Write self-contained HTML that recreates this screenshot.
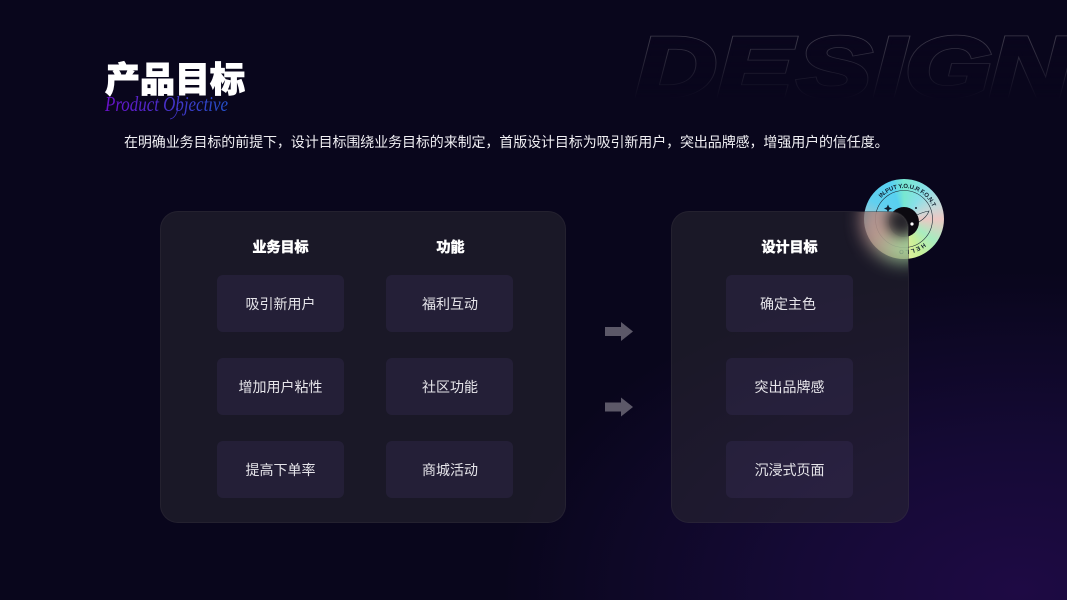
<!DOCTYPE html>
<html lang="zh"><head><meta charset="utf-8"><style>
html,body{margin:0;padding:0}
#p{position:relative;width:1067px;height:600px;overflow:hidden;background:radial-gradient(ellipse 520px 320px at 1020px 590px,#1e0a44 0%,#150a35 45%,rgba(9,6,28,0) 100%),#09061c;font-family:"Liberation Sans","Noto Sans CJK SC",sans-serif;color:#fff}
.a{position:absolute}
.card{position:absolute;top:211px;height:310px;border-radius:18px;border:1px solid rgba(255,255,255,.045);background:rgba(44,41,50,.5);overflow:hidden}
.b{position:absolute;width:127px;height:57px;line-height:58px;border-radius:6px;background:rgba(74,60,115,.22);text-align:center;font-size:14px;color:#e6e5ea}
.h{position:absolute;top:237px;width:127px;text-align:center;font-size:14px;font-weight:700;line-height:20px;-webkit-text-stroke:.6px #fff}
</style></head><body><div id="p">
<div class="a" style="left:864px;top:179px;width:80px;height:80px;border-radius:50%;background:conic-gradient(#78e8d0 0deg,#88e0e8 35deg,#c8d8d8 70deg,#ecc8c4 90deg,#a8ecc0 125deg,#c8f098 155deg,#f0f0a0 190deg,#e8c0b0 240deg,#60d0f0 300deg,#58d0f0 340deg,#78e8d0 360deg)"></div>
<svg class="a" style="left:0;top:0" width="1067" height="600"><defs>
<linearGradient id="f" x1="0" y1="33" x2="0" y2="100" gradientUnits="userSpaceOnUse"><stop offset="0" stop-color="#fff"/><stop offset=".55" stop-color="#777"/><stop offset="1" stop-color="#000"/></linearGradient>
<mask id="m" maskUnits="userSpaceOnUse" x="600" y="0" width="467" height="120"><rect x="600" y="0" width="467" height="120" fill="url(#f)"/></mask>
<linearGradient id="t" x1="105" y1="0" x2="228" y2="0" gradientUnits="userSpaceOnUse"><stop offset="0" stop-color="#6a10c8"/><stop offset="1" stop-color="#2450c8"/></linearGradient>
<path id="c1" d="M873 219A31 31 0 0 1 935 219"/><path id="c2" d="M935 219A31 31 0 0 1 873 219"/></defs>
<g mask="url(#m)" font-family="Liberation Sans" font-size="84" font-weight="700" font-style="italic" stroke-linejoin="miter">
<g fill="#3f3c4c" stroke="#3f3c4c" stroke-width="4.500">
<text transform="translate(636 96) scale(1.33 1)">D</text><text transform="translate(718 96) scale(1.33 1)">E</text><text transform="translate(797 96) scale(1.33 1)">S</text><text transform="translate(874 96) scale(1.33 1)">I</text><text transform="translate(905 96) scale(1.33 1)">G</text><text transform="translate(990 96) scale(1.33 1)">N</text></g>
<g fill="#0a061d" stroke="#0a061d" stroke-width="3">
<text transform="translate(636 96) scale(1.33 1)">D</text><text transform="translate(718 96) scale(1.33 1)">E</text><text transform="translate(797 96) scale(1.33 1)">S</text><text transform="translate(874 96) scale(1.33 1)">I</text><text transform="translate(905 96) scale(1.33 1)">G</text><text transform="translate(990 96) scale(1.33 1)">N</text></g></g>
<circle cx="904" cy="219" r="28.500" fill="none" stroke="#1a2a35" stroke-width=".6"/>
<circle cx="904" cy="222" r="15" fill="#0c0a10"/>
<text font-size="6" font-weight="700" fill="#102030"><textPath href="#c1" startOffset="23" textLength="62">IN.PUT Y.O.U.R F.O.N.T</textPath></text>
<text font-size="6" font-weight="700" fill="#102030" letter-spacing="1.500"><textPath href="#c2" startOffset="27">HELLO</textPath></text>
<path d="M888 204.500l1.200 2.800 2.800 1.200-2.800 1.200-1.200 2.800-1.200-2.800-2.800-1.200 2.800-1.200z" fill="#102030"/>
<circle cx="916" cy="208" r="1" fill="#102030"/><circle cx="912" cy="224" r="1.600" fill="#fff"/>
<path d="M917 215q6-3 12-4q-2 6-10 11" fill="none" stroke="#1a2a35" stroke-width=".6"/>
<text x="105" y="111" font-family="Liberation Serif" font-style="italic" font-size="21" fill="url(#t)" textLength="123" lengthAdjust="spacingAndGlyphs">Product Objective</text>
<path d="M178 108q-2 10-8 11" fill="none" stroke="url(#t)" stroke-width=".7"/>
<path d="M605 327h16v-5l12 9.500-12 9.500v-5h-16zM605 402.500h16v-5l12 9.500-12 9.500v-5h-16z" fill="#5c5868"/>
</svg>
<div class="a" style="left:105px;top:60px;font-size:35px;font-weight:900;line-height:42px;white-space:nowrap;-webkit-text-stroke:1px #fff">产品目标</div>
<div class="a" style="left:124px;top:132px;font-size:14px;letter-spacing:-.1px;line-height:20px;white-space:nowrap;color:#f0eff3">在明确业务目标的前提下，设计目标围绕业务目标的来制定，首版设计目标为吸引新用户，突出品牌感，增强用户的信任度。</div>
<div class="card" style="left:160px;width:404px"></div>
<div class="card" style="left:671px;width:236px">
<div class="a" style="left:190px;top:-34px;width:84px;height:84px;border-radius:50%;filter:blur(9px);opacity:.85;background:conic-gradient(#909090 0deg,#a0b0a0 90deg,#b0d8a0 130deg,#a8d8a0 190deg,#c8a098 240deg,#c09890 300deg,#909090 360deg)"></div>
<div class="a" style="left:215px;top:-6px;width:30px;height:30px;border-radius:50%;filter:blur(6px);background:#26242a"></div>
</div>
<div class="h" style="left:217px">业务目标</div><div class="h" style="left:387px">功能</div><div class="h" style="left:726px">设计目标</div>
<div class="b" style="left:217px;top:275px">吸引新用户</div>
<div class="b" style="left:217px;top:358px">增加用户粘性</div>
<div class="b" style="left:217px;top:441px">提高下单率</div>
<div class="b" style="left:386px;top:275px"><span style="margin-left:1px">福利互动</span></div>
<div class="b" style="left:386px;top:358px"><span style="margin-left:1px">社区功能</span></div>
<div class="b" style="left:386px;top:441px"><span style="margin-left:1px">商城活动</span></div>
<div class="b" style="left:726px;top:275px"><span style="margin-right:3px">确定主色</span></div>
<div class="b" style="left:726px;top:358px">突出品牌感</div>
<div class="b" style="left:726px;top:441px">沉浸式页面</div>
</div></body></html>
